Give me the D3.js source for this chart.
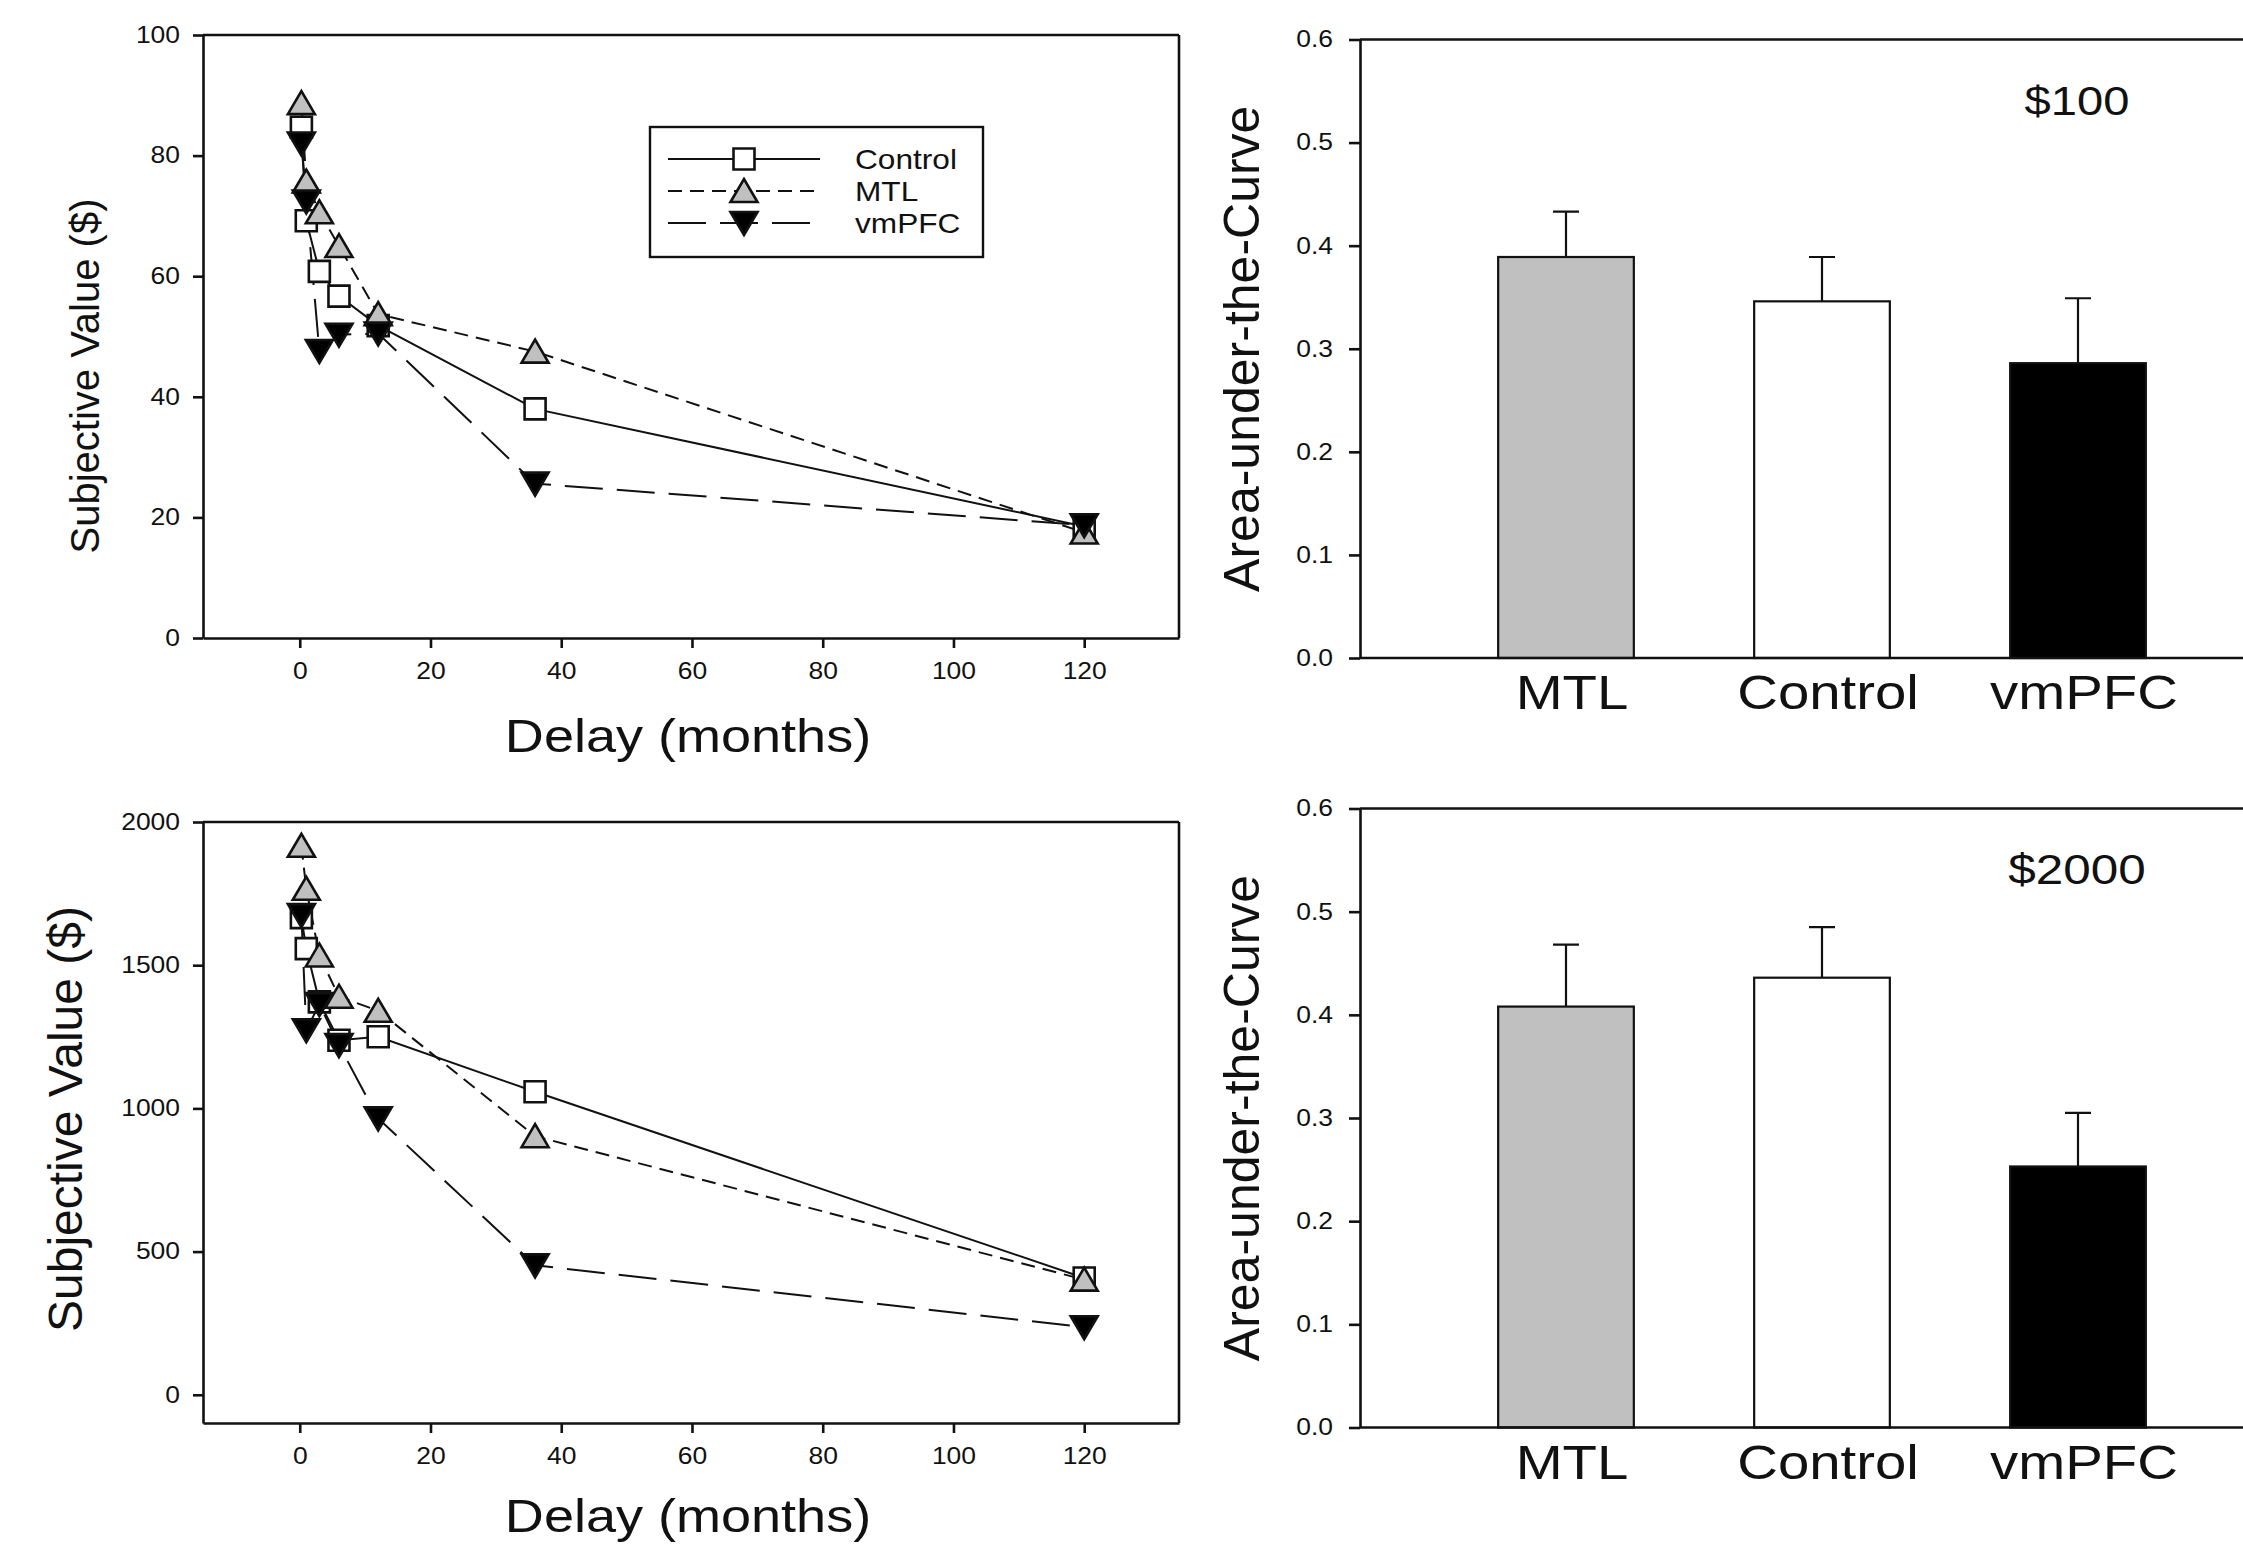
<!DOCTYPE html>
<html>
<head>
<meta charset="utf-8">
<script src="https://cdn.jsdelivr.net/npm/d3@7"></script>
<style>
body { margin: 0; background: #fff; }
text { font-family: "Liberation Sans", Arial, sans-serif; fill: #111; }
</style>
</head>
<body>
<div id="figure"></div>
<script>
// ---- data ----
// delays in months
var delays = [0.25, 1, 3, 6, 12, 36, 120];
var groupNames = ["Control", "MTL", "vmPFC"];

// $100 condition, subjective value
var control100 = [84.7, 69.2, 60.8, 56.7, 51.8, 38.0, 18.5];
var mtl100 = [88.7, 75.7, 70.6, 65.0, 53.7, 47.5, 17.5];
var vmpfc100 = [82.0, 72.4, 47.6, 50.3, 50.5, 25.6, 18.7];

// $2000 condition, subjective value
var control2000 = [1666, 1558, 1372, 1238, 1250, 1058, 408];
var mtl2000 = [1917, 1767, 1534, 1390, 1341, 903, 402];
var vmpfc2000 = [1675, 1273, 1364, 1221, 965, 452, 236];

var xTicks = [0, 20, 40, 60, 80, 100, 120];
var yTicks100 = [0, 20, 40, 60, 80, 100];
var yTicks2000 = [0, 500, 1000, 1500, 2000];

// area under the curve bars
var barNames = ["MTL", "Control", "vmPFC"];
var auc100 = [0.389, 0.346, 0.286];
var sem100 = [0.044, 0.043, 0.063];
var auc2000 = [0.408, 0.436, 0.253];
var sem2000 = [0.060, 0.049, 0.052];
var aucTicks = [0, 0.1, 0.2, 0.3, 0.4, 0.5, 0.6];

// ---- styles ----
var groupStyle = {
    "Control": {dash: null, shape: "square", fill: "#ffffff"},
    "MTL": {dash: "14,8", shape: "up", fill: "#c0c0c0"},
    "vmPFC": {dash: "38,14", shape: "down", fill: "#000000"}
};
var barFill = {"MTL": "#c0c0c0", "Control": "#ffffff", "vmPFC": "#000000"};
var SX = 1.15; // the original figure is a bit wide-stretched

var svg = d3.select("#figure").append("svg").attr("width", 2243).attr("height", 1550);

function symbolPath(shape) {
    if (shape == "square") return "M-10.5,-10.5H10.5V10.5H-10.5Z";
    if (shape == "up") return "M-13.5,11L13.5,11L0,-12Z";
    return "M-13.5,-11L13.5,-11L0,12Z";
}

// horizontal text, slightly widened
function hText(parent, x, y, str, size, anchor) {
    return parent.append("text")
        .attr("transform", "translate(" + x + "," + y + ") scale(" + SX + ",1)")
        .attr("text-anchor", anchor || "start")
        .attr("font-size", size)
        .text(str);
}

function styleAxis(g, fontSize, leftOffset) {
    g.attr("font-family", null).attr("font-size", null);
    g.select(".domain").attr("stroke", "#111").attr("stroke-width", 2.6);
    g.selectAll(".tick line").attr("stroke", "#111").attr("stroke-width", 2.6);
    var t = g.selectAll(".tick text").attr("font-size", fontSize).attr("fill", "#111")
        .attr("transform", "scale(" + SX + ",1)");
    if (leftOffset) t.attr("x", -leftOffset / SX);
}

// ---- line plots ----
var xScale = d3.scaleLinear().domain([-14.8, 134.5]).range([203, 1179]);

function drawDelayPlot(yScale, yTicks, series, withLegend, yTitle, xTitleY) {
    var g = svg.append("g");
    var x0 = xScale.range()[0], x1 = xScale.range()[1];
    var yb = yScale.range()[0], yt = yScale.range()[1];

    // frame top / right
    g.append("line").attr("x1", x0).attr("x2", x1).attr("y1", yt).attr("y2", yt)
        .attr("stroke", "#111").attr("stroke-width", 2.6);
    g.append("line").attr("x1", x1).attr("x2", x1).attr("y1", yt).attr("y2", yb)
        .attr("stroke", "#111").attr("stroke-width", 2.6);

    var xAxis = g.append("g").attr("transform", "translate(0," + yb + ")")
        .call(d3.axisBottom(xScale).tickValues(xTicks).tickSize(10).tickSizeOuter(0).tickPadding(15));
    styleAxis(xAxis, 23);
    var yAxis = g.append("g").attr("transform", "translate(" + x0 + ",0)")
        .call(d3.axisLeft(yScale).tickValues(yTicks).tickFormat(d3.format("d"))
            .tickSize(10).tickSizeOuter(0).tickPadding(13));
    styleAxis(yAxis, 23, 23);

    var line = d3.line()
        .x(function(d){ return xScale(d[0]); })
        .y(function(d){ return yScale(d[1]); });

    series.forEach(function(s){
        var pts = delays.map(function(d, i){ return [d, s.values[i]]; });
        g.append("path").attr("d", line(pts)).attr("fill", "none")
            .attr("stroke", "#111").attr("stroke-width", 2)
            .attr("stroke-dasharray", groupStyle[s.name].dash);
    });
    series.forEach(function(s){
        var st = groupStyle[s.name];
        g.selectAll(".m" + s.name).data(delays.map(function(d, i){ return [d, s.values[i]]; }))
            .enter().append("path")
            .attr("d", symbolPath(st.shape))
            .attr("transform", function(d){ return "translate(" + xScale(d[0]) + "," + yScale(d[1]) + ")"; })
            .attr("fill", st.fill).attr("stroke", "#111").attr("stroke-width", 2.6)
            .attr("stroke-linejoin", "miter");
    });

    // titles
    g.append("text")
        .attr("transform", "translate(" + yTitle.x + "," + yTitle.y + ") rotate(-90)")
        .attr("text-anchor", "middle").attr("font-size", yTitle.size)
        .text("Subjective Value ($)");
    hText(g, 688, xTitleY, "Delay (months)", 47, "middle");

    if (withLegend) {
        var lg = g.append("g");
        lg.append("rect").attr("x", 650).attr("y", 127).attr("width", 333).attr("height", 130)
            .attr("fill", "#fff").attr("stroke", "#111").attr("stroke-width", 2.4);
        var rows = d3.scalePoint().domain(groupNames).range([159, 223]);
        groupNames.forEach(function(name){
            var st = groupStyle[name];
            var y = rows(name);
            lg.append("line").attr("x1", 668).attr("x2", 820).attr("y1", y).attr("y2", y)
                .attr("stroke", "#111").attr("stroke-width", 2).attr("stroke-dasharray", st.dash);
            lg.append("path").attr("d", symbolPath(st.shape))
                .attr("transform", "translate(744," + y + ")")
                .attr("fill", st.fill).attr("stroke", "#111").attr("stroke-width", 2.6);
            hText(lg, 855, y + 10, name, 27.5);
        });
    }
}

var yTop = d3.scaleLinear().domain([0, 100]).range([638, 35]);
var yBottom = d3.scaleLinear().domain([-98.5, 2000]).range([1423, 822]);

drawDelayPlot(yTop, yTicks100, [
    {name: "Control", values: control100},
    {name: "MTL", values: mtl100},
    {name: "vmPFC", values: vmpfc100}
], true, {x: 99, y: 376, size: 40}, 752);

drawDelayPlot(yBottom, yTicks2000, [
    {name: "Control", values: control2000},
    {name: "MTL", values: mtl2000},
    {name: "vmPFC", values: vmpfc2000}
], false, {x: 82, y: 1119, size: 48}, 1532);

// ---- bar plots ----
var xBand = d3.scaleBand().domain(barNames).range([1438, 2206]).paddingInner(0.47).paddingOuter(0.235);

function drawAucPlot(yScale, values, errs, label, labelY, labelSize) {
    var g = svg.append("g");
    var ax = 1360;
    var yb = yScale.range()[0], yt = yScale.range()[1];

    g.append("line").attr("x1", ax).attr("x2", 2250).attr("y1", yt).attr("y2", yt)
        .attr("stroke", "#111").attr("stroke-width", 2.6);

    var bars = barNames.map(function(n, i){ return {name: n, v: values[i], e: errs[i]}; });

    // error bars (upper only)
    g.selectAll(".err").data(bars).enter().append("path")
        .attr("d", function(d){
            var cx = xBand(d.name) + xBand.bandwidth() / 2;
            return "M" + cx + "," + yScale(d.v) + "V" + yScale(d.v + d.e) +
                "M" + (cx - 13) + "," + yScale(d.v + d.e) + "H" + (cx + 13);
        })
        .attr("stroke", "#111").attr("stroke-width", 2.2).attr("fill", "none");

    g.selectAll(".bar").data(bars).enter().append("rect")
        .attr("x", function(d){ return xBand(d.name); })
        .attr("y", function(d){ return yScale(d.v); })
        .attr("width", xBand.bandwidth())
        .attr("height", function(d){ return yb - yScale(d.v); })
        .attr("fill", function(d){ return barFill[d.name]; })
        .attr("stroke", "#111").attr("stroke-width", 2.2);

    g.append("line").attr("x1", ax).attr("x2", 2250).attr("y1", yb).attr("y2", yb)
        .attr("stroke", "#111").attr("stroke-width", 2.6);

    var yAxis = g.append("g").attr("transform", "translate(" + ax + ",0)")
        .call(d3.axisLeft(yScale).tickValues(aucTicks).tickFormat(d3.format(".1f"))
            .tickSize(11).tickSizeOuter(0).tickPadding(16));
    styleAxis(yAxis, 23, 27);

    barNames.forEach(function(d){
        hText(g, xBand(d) + xBand.bandwidth() / 2 + 6, yb + 51, d, 49, "middle");
    });

    g.append("text")
        .attr("transform", "translate(1259," + ((yb + yt) / 2) + ") rotate(-90)")
        .attr("text-anchor", "middle").attr("font-size", 50)
        .text("Area-under-the-Curve");

    hText(g, 2077, labelY, label, labelSize, "middle");
}

var aucTop = d3.scaleLinear().domain([0, 0.6]).range([658, 39.5]);
var aucBottom = d3.scaleLinear().domain([0, 0.6]).range([1427.5, 808.5]);

drawAucPlot(aucTop, auc100, sem100, "$100", 115, 41);
drawAucPlot(aucBottom, auc2000, sem2000, "$2000", 884, 43);
</script>
</body>
</html>
